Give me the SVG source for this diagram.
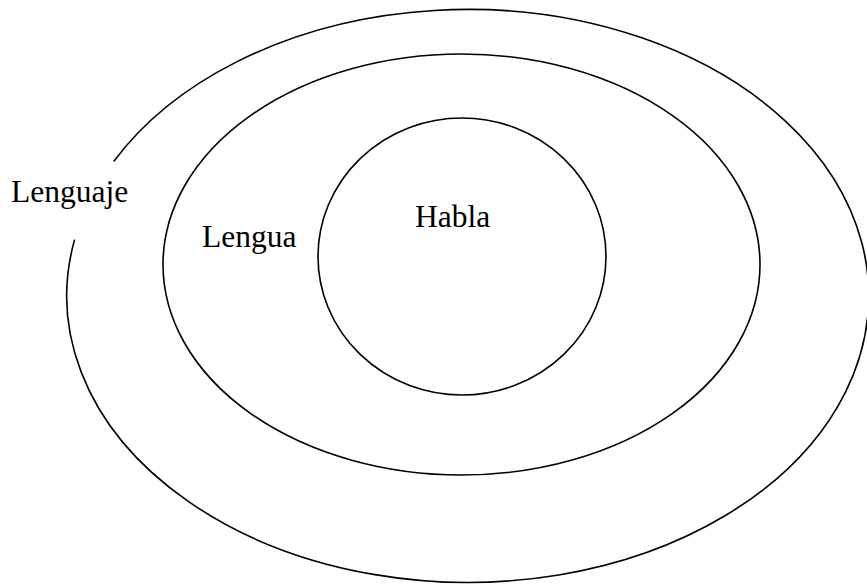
<svg xmlns="http://www.w3.org/2000/svg" width="867" height="584" viewBox="0 0 867 584">
<style>
.ring{fill:none;stroke:#000;stroke-width:1.6}
.lbl{font-family:"Liberation Serif","Times New Roman",serif;font-size:31.5px;fill:#000}
</style>
<rect width="867" height="584" fill="#fff"/>
<g id="lenguaje">
<path class="ring" d="M 113.7 161.45 A 401 286.5 0 1 1 74.6 239.6"/>
<text class="lbl" x="11" y="202">Lenguaje</text>
</g>
<g id="lengua">
<ellipse class="ring" cx="461.5" cy="264.5" rx="298.5" ry="210.5"/>
<text class="lbl" x="202" y="247">Lengua</text>
</g>
<g id="habla">
<ellipse class="ring" cx="462" cy="256.5" rx="144" ry="138.5"/>
<text class="lbl" x="415" y="227">Habla</text>
</g>
<g id="connectors"/>
</svg>
